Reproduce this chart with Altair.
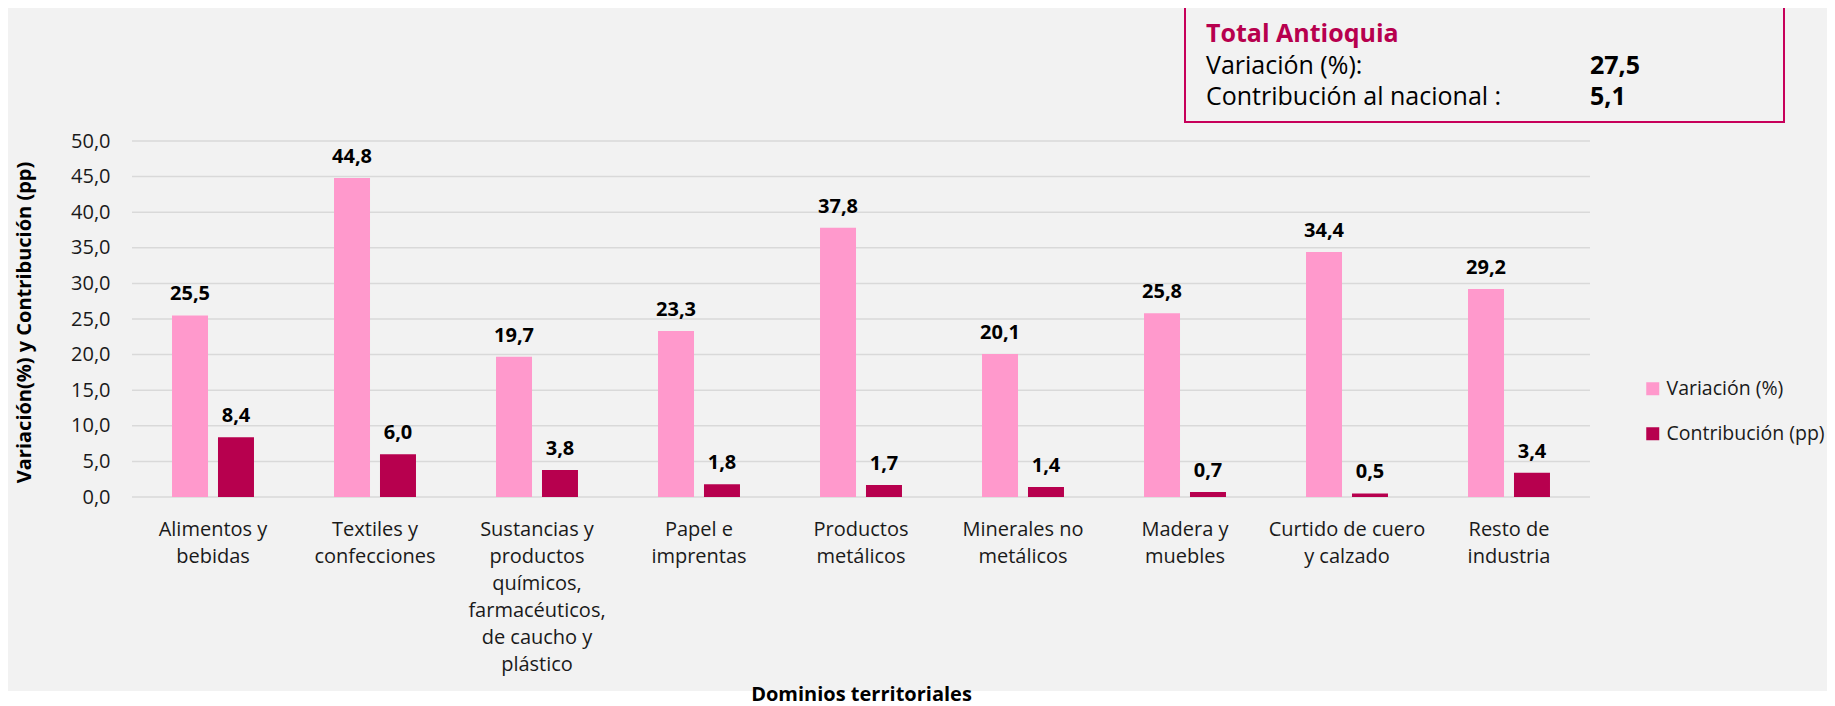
import altair as alt
import pandas as pd

# ---- data ----
category_lines = [
    ["Alimentos y", "bebidas"],
    ["Textiles y", "confecciones"],
    ["Sustancias y", "productos", "químicos,", "farmacéuticos,", "de caucho y", "plástico"],
    ["Papel e", "imprentas"],
    ["Productos", "metálicos"],
    ["Minerales no", "metálicos"],
    ["Madera y", "muebles"],
    ["Curtido de cuero", "y calzado"],
    ["Resto de", "industria"],
]
variacion = [25.5, 44.8, 19.7, 23.3, 37.8, 20.1, 25.8, 34.4, 29.2]
contribucion = [8.4, 6.0, 3.8, 1.8, 1.7, 1.4, 0.7, 0.5, 3.4]
series_names = ["Variación (%)", "Contribución (pp)"]
series_colors = ["#FF99CC", "#B7004E"]
y_ticks = [0, 5, 10, 15, 20, 25, 30, 35, 40, 45, 50]

box_title = "Total Antioquia"
box_labels = ["Variación (%):", "Contribución al nacional :"]
box_values = [27.5, 5.1]


def fmt(v):
    return f"{v:.1f}".replace(".", ",")


categories = ["\n".join(lines) for lines in category_lines]

rows = []
for cat, v, c in zip(categories, variacion, contribucion):
    rows.append({"cat": cat, "serie": series_names[0], "valor": v, "lab": fmt(v)})
    rows.append({"cat": cat, "serie": series_names[1], "valor": c, "lab": fmt(c)})
df = pd.DataFrame(rows)
grid_df = pd.DataFrame({"valor": y_ticks})

W, H = 1458, 356
FONT = "Open Sans"

x_axis = alt.Axis(
    title="Dominios territoriales",
    labelExpr="split(datum.label, '\\n')",
    labelAngle=0,
    labelFontSize=20,
    labelLineHeight=27,
    labelPadding=22,
    labelColor="#1a1a1a",
    labelOverlap=False,
    labelLimit=0,
    domain=False,
    ticks=False,
    grid=False,
    titleFontSize=20,
    titleFontWeight="bold",
    titleColor="#000000",
    titleX=W / 2,
    titleY=203,
    titleAlign="center",
    titleBaseline="alphabetic",
    zindex=1,
)
x_scale = alt.Scale(paddingInner=0.494, paddingOuter=0.247)

y_axis = alt.Axis(
    title="Variación(%) y Contribución (pp)",
    values=y_ticks,
    labelExpr="replace(format(datum.value, '.1f'), '.', ',')",
    labelFontSize=20,
    labelPadding=22,
    labelColor="#1a1a1a",
    domain=False,
    ticks=False,
    grid=False,
    titleFontSize=20,
    titleFontWeight="bold",
    titleColor="#000000",
    titleAngle=-90,
    titleX=-108,
    titleY=181,
    titleAlign="center",
    titleBaseline="middle",
    zindex=1,
)
y_scale = alt.Scale(domain=[0, 50], nice=False)

x_enc = alt.X("cat:N", sort=categories, scale=x_scale, axis=x_axis)
xoff_enc = alt.XOffset(
    "serie:N", sort=series_names, scale=alt.Scale(paddingInner=0.217, paddingOuter=0)
)
y_enc = alt.Y("valor:Q", scale=y_scale, axis=y_axis)

grid = alt.Chart(grid_df).mark_rule(color="#D9D9D9", strokeWidth=1.5).encode(y=y_enc)

bars = alt.Chart(df).mark_bar().encode(
    x=x_enc,
    xOffset=xoff_enc,
    y=y_enc,
    color=alt.Color(
        "serie:N",
        sort=series_names,
        scale=alt.Scale(domain=series_names, range=series_colors),
        legend=alt.Legend(
            title=None,
            orient="none",
            legendX=1511,
            legendY=238,
            symbolType="square",
            symbolSize=169,
            symbolStrokeWidth=0,
            labelFontSize=19.5,
            labelColor="#1a1a1a",
            labelOffset=4,
            labelLimit=0,
            rowPadding=24,
            padding=0,
        ),
    ),
)

labels = alt.Chart(df).mark_text(
    baseline="alphabetic", dy=-15, fontSize=20, fontWeight="bold", color="#000000"
).encode(x=x_enc, xOffset=xoff_enc, y=y_enc, text="lab:N")

one = alt.Data(values=[{"k": 1}])

white_strip = alt.Chart(one).mark_rect(color="#FFFFFF").encode(
    x=alt.value(-140), x2=alt.value(1800), y=alt.value(550), y2=alt.value(620)
)

box = alt.Chart(one).mark_rect(
    filled=False, stroke="#C7005A", strokeWidth=2
).encode(x=alt.value(1053), x2=alt.value(1652), y=alt.value(-135), y2=alt.value(-19))

box_layers = [
    alt.Chart(one).mark_text(
        align="left", baseline="alphabetic", fontSize=25, fontWeight="bold", color="#B7004E"
    ).encode(x=alt.value(1074), y=alt.value(-99), text=alt.value(box_title))
]
for i, (lab, val) in enumerate(zip(box_labels, box_values)):
    yy = -67 + 31 * i
    box_layers.append(
        alt.Chart(one).mark_text(
            align="left", baseline="alphabetic", fontSize=25, color="#000000"
        ).encode(x=alt.value(1074), y=alt.value(yy), text=alt.value(lab))
    )
    box_layers.append(
        alt.Chart(one).mark_text(
            align="left", baseline="alphabetic", fontSize=25, fontWeight="bold", color="#000000"
        ).encode(x=alt.value(1458), y=alt.value(yy), text=alt.value(fmt(val)))
    )

chart = (
    alt.layer(white_strip, grid, bars, labels, box, *box_layers)
    .properties(
        width=W,
        height=H,
        background="#F2F2F2",
        padding={"left": 124, "top": 133, "right": 237, "bottom": 209},
        autosize=alt.AutoSizeParams(type="none"),
    )
    .configure(font=FONT)
    .configure_view(stroke=None)
)

chart.save("out.html", embed_options={"renderer": "svg", "actions": False})
